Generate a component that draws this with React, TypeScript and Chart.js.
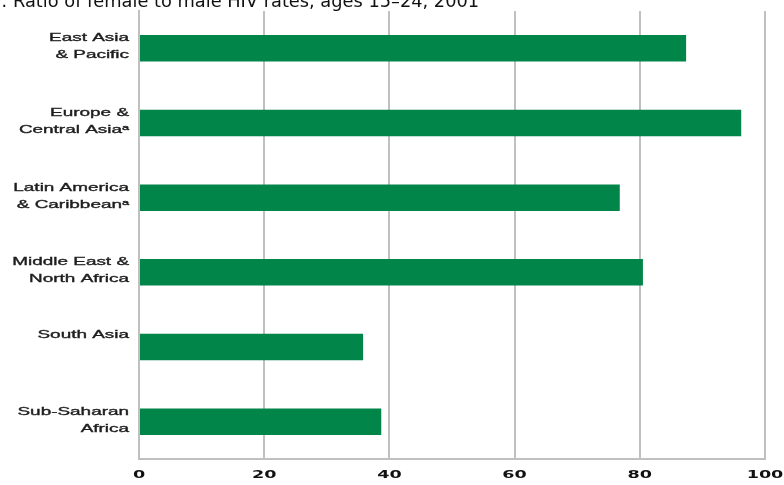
import React, { useEffect, useRef } from "react";
import { Chart, registerables } from "chart.js";

Chart.register(...registerables);

const categories: string[][] = [
  ["East Asia", "& Pacific"],
  ["Europe &", "Central Asiaᵃ"],
  ["Latin America", "& Caribbeanᵃ"],
  ["Middle East &", "North Africa"],
  ["South Asia"],
  ["Sub-Saharan", "Africa"],
];
const ratios: number[] = [87.4, 96.2, 76.8, 80.5, 35.8, 38.7];
const xTicks: number[] = [0, 20, 40, 60, 80, 100];
const titleText = "9: Ratio of female to male HIV rates, ages 15–24, 2001";

const stretchedLabels = {
  id: "stretchedLabels",
  afterDraw(chart: any) {
    const ctx: CanvasRenderingContext2D = chart.ctx;
    const ys = chart.scales.y;
    const xs = chart.scales.x;
    ctx.save();
    // category labels
    ctx.fillStyle = "#1e1e1e";
    ctx.strokeStyle = "#1e1e1e";
    ctx.lineWidth = 0.35;
    ctx.font = "11px 'Liberation Sans'";
    ctx.textAlign = "right";
    ctx.textBaseline = "alphabetic";
    const lbls: string[][] = chart.data.labels;
    lbls.forEach((lines, i) => {
      const cy = ys.getPixelForValue(i);
      const offsets = lines.length === 2 ? [-7, 10] : [-9];
      lines.forEach((line, j) => {
        ctx.save();
        ctx.translate(ys.right - 10, cy + offsets[j]);
        ctx.scale(1.72, 1);
        ctx.fillText(line, 0, 0);
        ctx.strokeText(line, 0, 0);
        ctx.restore();
      });
    });
    // x tick labels
    ctx.fillStyle = "#111";
    ctx.font = "bold 11px 'DejaVu Sans'";
    ctx.textAlign = "center";
    xs.ticks.forEach((t: any) => {
      const px = xs.getPixelForValue(t.value);
      ctx.save();
      ctx.translate(px, xs.top + 19);
      ctx.scale(1.6, 1);
      ctx.fillText(String(t.value), 0, 0);
      ctx.restore();
    });
    ctx.restore();
  },
};

export default function App() {
  const canvasRef = useRef<HTMLCanvasElement | null>(null);

  useEffect(() => {
    document.body.style.margin = "0";
    const ctx = canvasRef.current!;
    const chart = new Chart(ctx, {
      type: "bar",
      data: {
        labels: categories,
        datasets: [
          {
            data: ratios,
            backgroundColor: "#028549",
            borderWidth: 0,
            barPercentage: 0.355,
            categoryPercentage: 1,
          },
        ],
      },
      options: {
        indexAxis: "y",
        animation: false,
        responsive: false,
        maintainAspectRatio: false,
        layout: { padding: { top: 11, right: 19, left: 0, bottom: 0 } },
        plugins: { legend: { display: false }, tooltip: { enabled: false }, title: { display: false } },
        scales: {
          x: {
            min: 0,
            max: 100,
            afterBuildTicks: (axis: any) => {
              axis.ticks = xTicks.map((v) => ({ value: v }));
            },
            afterFit: (axis: any) => {
              axis.height = 26;
              axis.paddingLeft = 0;
              axis.paddingRight = 0;
            },
            grid: { color: "#c0c0c0", lineWidth: 2, drawTicks: false },
            border: { display: true, color: "#c0c0c0", width: 2 },
            ticks: { display: false },
          },
          y: {
            afterFit: (axis: any) => {
              axis.width = 139;
              axis.paddingTop = 0;
              axis.paddingBottom = 0;
            },
            grid: { display: false, drawTicks: false },
            border: { display: true, color: "#c0c0c0", width: 2 },
            ticks: { display: false },
          },
        },
      },
      plugins: [stretchedLabels],
    });
    return () => chart.destroy();
  }, []);

  return (
    <div style={{ position: "relative", width: 784, height: 485, overflow: "hidden", background: "#fff" }}>
      <canvas ref={canvasRef} width={784} height={485} style={{ position: "absolute", left: 0, top: 0 }} />
      <div
        style={{
          position: "absolute",
          left: -10,
          top: -8,
          fontFamily: "DejaVu Sans",
          fontSize: 17.8,
          color: "#111",
          whiteSpace: "nowrap",
          lineHeight: "18px",
        }}
      >
        {titleText}
      </div>
    </div>
  );
}
